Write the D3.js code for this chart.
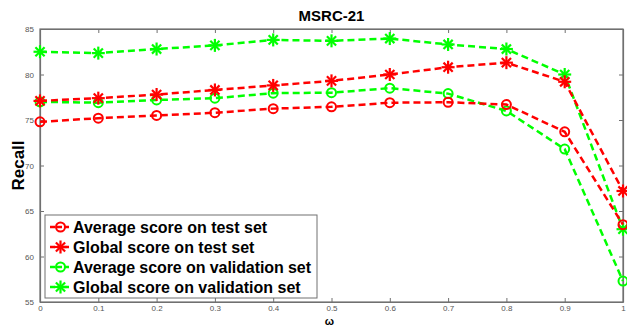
<!DOCTYPE html>
<html>
<head>
<meta charset="utf-8">
<script src="https://cdn.jsdelivr.net/npm/d3@7"></script>
<style>
  body { margin: 0; background: #fff; }
  svg { display: block; font-family: "Liberation Sans", Arial, sans-serif; }
</style>
</head>
<body>
<div id="chart"></div>
<script>
// omega values along x
var omegas = [0, 0.1, 0.2, 0.3, 0.4, 0.5, 0.6, 0.7, 0.8, 0.9, 1];
var avgTest = [74.8, 75.2, 75.5, 75.8, 76.25, 76.45, 76.9, 76.95, 76.7, 73.7, 63.5];
var globalTest = [77.1, 77.4, 77.8, 78.3, 78.8, 79.3, 80.0, 80.8, 81.3, 79.2, 67.2];
var avgVal = [77.0, 76.9, 77.2, 77.4, 77.95, 78.0, 78.5, 77.9, 76.0, 71.8, 57.3];
var globalVal = [82.5, 82.35, 82.8, 83.2, 83.8, 83.7, 83.95, 83.3, 82.8, 80.0, 63.0];
var seriesNames = ["Average score on test set", "Global score on test set",
  "Average score on validation set", "Global score on validation set"];
var xTicks = [0, 0.1, 0.2, 0.3, 0.4, 0.5, 0.6, 0.7, 0.8, 0.9, 1];
var yTicks = [55, 60, 65, 70, 75, 80, 85];

var series = [
  {name: seriesNames[0], values: avgTest, color: "#ff0000", marker: "circle"},
  {name: seriesNames[1], values: globalTest, color: "#ff0000", marker: "star"},
  {name: seriesNames[2], values: avgVal, color: "#00ff00", marker: "circle"},
  {name: seriesNames[3], values: globalVal, color: "#00ff00", marker: "star"}
];

var W = 627, H = 327;
var margin = {left: 40, right: 4, top: 29, bottom: 25};
var width = W - margin.left - margin.right;
var height = H - margin.top - margin.bottom;
var axisColor = "#707070";

var svg = d3.select("#chart").append("svg")
  .attr("width", W)
  .attr("height", H);

var g = svg.append("g")
  .attr("transform", "translate(" + margin.left + "," + margin.top + ")");

var x = d3.scaleLinear().domain([0, 1]).range([0, width]);
var y = d3.scaleLinear().domain([55, 85]).range([height, 0]);

// box
g.append("rect")
  .attr("width", width).attr("height", height)
  .attr("fill", "none").attr("stroke", axisColor).attr("stroke-width", 1.2);

// axes, ticks inward (matlab style)
var xAxis = g.append("g").attr("transform", "translate(0," + height + ")")
  .call(d3.axisBottom(x).tickValues(xTicks).tickSizeInner(-4).tickSizeOuter(0)
    .tickPadding(3).tickFormat(function(d) { return d; }));
var xTop = g.append("g")
  .call(d3.axisTop(x).tickValues(xTicks).tickSizeInner(-4).tickSizeOuter(0).tickFormat(""));
var yAxis = g.append("g")
  .call(d3.axisLeft(y).tickValues(yTicks).tickSizeInner(-4).tickSizeOuter(0).tickPadding(6));
var yRight = g.append("g").attr("transform", "translate(" + width + ",0)")
  .call(d3.axisRight(y).tickValues(yTicks).tickSizeInner(-4).tickSizeOuter(0).tickFormat(""));

[xAxis, xTop, yAxis, yRight].forEach(function(a) {
  a.select(".domain").attr("stroke", axisColor).attr("stroke-width", 1.2);
  a.selectAll(".tick line").attr("stroke", axisColor);
  a.selectAll("text").attr("fill", "#555").attr("font-size", "8px")
    .attr("font-family", "Liberation Sans, Arial, sans-serif");
});

function drawMarker(sel, type, color) {
  if (type === "circle") {
    sel.append("circle").attr("r", 4.5).attr("fill", "none")
      .attr("stroke", color).attr("stroke-width", 2);
  } else {
    var r = 6.5;
    for (var k = 0; k < 4; k++) {
      var a = k * Math.PI / 4;
      sel.append("line")
        .attr("x1", -r * Math.cos(a)).attr("y1", -r * Math.sin(a))
        .attr("x2", r * Math.cos(a)).attr("y2", r * Math.sin(a))
        .attr("stroke", color).attr("stroke-width", 2.2);
    }
  }
}

var line = d3.line()
  .x(function(d, i) { return x(omegas[i]); })
  .y(function(d) { return y(d); });

// draw in reverse so the test series are on top
series.slice().reverse().forEach(function(s) {
  g.append("path").datum(s.values)
    .attr("d", line)
    .attr("fill", "none")
    .attr("stroke", s.color)
    .attr("stroke-width", 2.5)
    .attr("stroke-dasharray", "7,4");
  g.selectAll(null).data(s.values).enter()
    .append("g")
    .attr("transform", function(d, i) { return "translate(" + x(omegas[i]) + "," + y(d) + ")"; })
    .each(function() { drawMarker(d3.select(this), s.marker, s.color); });
});

// title
svg.append("text")
  .attr("x", margin.left + width / 2).attr("y", 21)
  .attr("text-anchor", "middle")
  .attr("font-size", "15px").attr("font-weight", "bold")
  .text("MSRC-21");

// axis labels
svg.append("text")
  .attr("transform", "translate(24," + (margin.top + height / 2) + ") rotate(-90)")
  .attr("text-anchor", "middle")
  .attr("font-size", "17px").attr("font-weight", "bold")
  .text("Recall");

svg.append("text")
  .attr("x", margin.left + width / 2 - 2).attr("y", 325)
  .attr("text-anchor", "middle")
  .attr("font-size", "11px").attr("font-weight", "bold")
  .text("\u03c9");

// legend
var lg = svg.append("g").attr("transform", "translate(45,215)");
lg.append("rect")
  .attr("width", 272).attr("height", 83)
  .attr("fill", "#fff").attr("stroke", axisColor).attr("stroke-width", 1);

series.forEach(function(s, i) {
  var row = lg.append("g").attr("transform", "translate(0," + (12 + i * 20) + ")");
  row.append("line").attr("x1", 5).attr("x2", 26).attr("y1", 0).attr("y2", 0)
    .attr("stroke", s.color).attr("stroke-width", 2.5).attr("stroke-dasharray", "5,2");
  drawMarker(row.append("g").attr("transform", "translate(15.5,0)"), s.marker, s.color);
  row.append("text").attr("x", 28).attr("y", 6)
    .attr("font-size", "16px").attr("font-weight", "bold")
    .attr("textLength", i === 2 ? 238 : null)
    .text(s.name);
});
</script>
</body>
</html>
